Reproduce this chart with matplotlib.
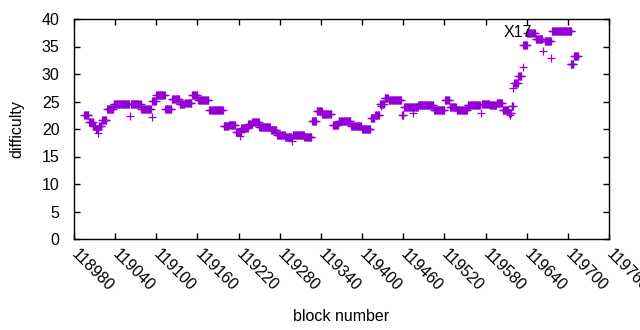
import numpy as np
import matplotlib
matplotlib.use("Agg")
import matplotlib.pyplot as plt

# Runs of (nearly) constant difficulty: first block, last block, difficulty
run_start = [118995, 119002, 119008, 119012, 119016, 119021, 119028, 119038, 119063, 119078,
             119094, 119100, 119113, 119123, 119134, 119142, 119152, 119161, 119177, 119198,
             119206, 119216, 119224, 119234, 119240, 119250, 119267, 119276, 119288, 119299,
             119316, 119327, 119334, 119342, 119357, 119366, 119384, 119400, 119413, 119419,
             119426, 119433, 119439, 119458, 119461, 119482, 119505, 119521, 119528, 119538,
             119554, 119575, 119586, 119596, 119605, 119614, 119618, 119622, 119628, 119635,
             119641, 119653, 119666, 119677, 119704, 119709]
run_end = [119001, 119007, 119011, 119015, 119020, 119027, 119037, 119060, 119077, 119092,
           119099, 119112, 119122, 119133, 119141, 119151, 119160, 119176, 119197, 119205,
           119215, 119223, 119233, 119239, 119249, 119266, 119275, 119287, 119297, 119315,
           119326, 119333, 119341, 119355, 119365, 119383, 119399, 119412, 119418, 119425,
           119432, 119438, 119457, 119460, 119481, 119504, 119520, 119527, 119537, 119553,
           119572, 119585, 119595, 119604, 119613, 119617, 119620, 119627, 119632, 119640,
           119652, 119663, 119675, 119705, 119708, 119715]
run_value = [22.6, 21.2, 20.5, 20.0, 20.5, 21.6, 23.7, 24.6, 24.6, 23.6,
             25.1, 26.1, 23.6, 25.4, 24.6, 24.8, 26.2, 25.2, 23.5, 20.5,
             20.7, 19.5, 20.2, 21.0, 21.2, 20.4, 19.8, 18.9, 18.6, 18.9,
             18.5, 21.4, 23.3, 22.7, 20.8, 21.5, 20.5, 20.0, 22.0, 22.6,
             24.6, 25.7, 25.3, 22.5, 24.0, 24.3, 23.4, 25.2, 24.0, 23.5,
             24.3, 24.6, 24.4, 24.8, 23.5, 23.0, 24.2, 28.4, 29.7, 35.3,
             37.4, 36.4, 36.0, 37.8, 31.8, 33.3]

# Isolated blocks
single_block = [119015, 119061, 119093, 119222, 119298, 119428, 119474, 119574,
                119616, 119620, 119634, 119664, 119676]
single_value = [19.3, 22.3, 22.2, 18.7, 17.8, 24.2, 23.0, 22.9,
                22.5, 27.4, 31.2, 34.1, 33.0]

xticks = [118980, 119040, 119100, 119160, 119220, 119280, 119340, 119400,
          119460, 119520, 119580, 119640, 119700, 119760]
yticks = [0, 5, 10, 15, 20, 25, 30, 35, 40]

blocks = np.concatenate([np.arange(s, e + 1) for s, e in zip(run_start, run_end)] + [np.array(single_block)])
values = np.concatenate([np.full(e - s + 1, v) for s, e, v in zip(run_start, run_end, run_value)] + [np.array(single_value)])

plt.rcParams['font.family'] = ['Liberation Sans', 'DejaVu Sans']
FS = 11.5
fig = plt.figure(figsize=(6.4, 3.3), dpi=100)
ax = fig.add_axes([74/640, 1 - 239/330, (609-74)/640, (239-19)/330])

color = '#9400D3'
ax.plot(blocks, values, linestyle='none', marker='+', color=color,
        markersize=5.8, markeredgewidth=0.9)

ax.set_xlim(118980, 119760)
ax.set_ylim(0, 40)
ax.set_xticks(xticks)
ax.set_yticks(yticks)
ax.set_xticklabels([str(t) for t in xticks], rotation=-45, ha='left', va='center',
                   rotation_mode='anchor')
ax.tick_params(direction='in', length=4, width=1, top=True, right=True,
               labelsize=FS, colors='black')
ax.tick_params(axis='x', pad=9)
ax.tick_params(axis='y', pad=10.5)
for sp in ax.spines.values():
    sp.set_linewidth(1)
    sp.set_color('black')

ax.text(119607, 37.6, 'X17', ha='left', va='center', fontsize=FS)

ax.set_xlabel('block number', fontsize=FS)
ax.set_ylabel('difficulty', fontsize=FS)
ax.xaxis.set_label_coords(0.5, -0.318)
ax.yaxis.set_label_coords(-0.093, 0.5)

fig.savefig('out.png', dpi=100)
